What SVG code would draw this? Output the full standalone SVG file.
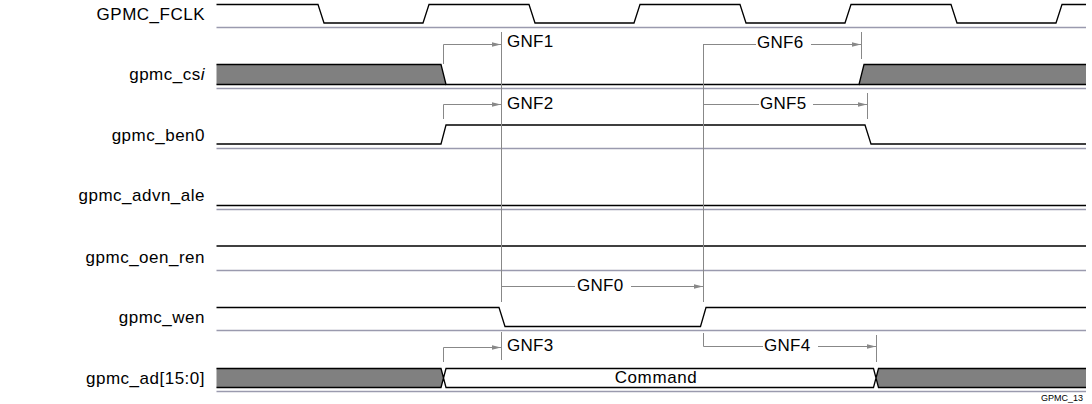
<svg xmlns="http://www.w3.org/2000/svg" width="1092" height="404" viewBox="0 0 1092 404">
<defs>
<style>
.lbl{font-family:"Liberation Sans",Arial,sans-serif;font-size:17px;letter-spacing:0.5px;fill:#000;text-anchor:end}
.gnf{font-family:"Liberation Sans",Arial,sans-serif;font-size:17px;letter-spacing:0.3px;fill:#000}
.sig{fill:none;stroke:#000;stroke-width:1.3}
.base{fill:none;stroke:#9a9aae;stroke-width:1.3}
.con{fill:none;stroke:#888;stroke-width:1}
.cona{fill:none;stroke:#888;stroke-width:1;marker-end:url(#arr)}
</style>
<marker id="arr" markerUnits="userSpaceOnUse" markerWidth="10" markerHeight="6" refX="9" refY="3" orient="auto">
<path d="M0,0.8 L9,3 L0,5.2 z" fill="#888"/>
</marker>
</defs>
<rect width="1092" height="404" fill="#fff"/>

<g id="labels">
<text class="lbl" x="205" y="20">GPMC_FCLK</text>
<text class="lbl" x="205" y="80">gpmc_cs<tspan font-style="italic">i</tspan></text>
<text class="lbl" x="205" y="141">gpmc_ben0</text>
<text class="lbl" x="205" y="201">gpmc_advn_ale</text>
<text class="lbl" x="205" y="263">gpmc_oen_ren</text>
<text class="lbl" x="205" y="323">gpmc_wen</text>
<text class="lbl" x="205" y="384">gpmc_ad[15:0]</text>
</g>

<g id="baselines">
<path class="base" d="M216.5,27.5H1086 M216.5,88.5H1086 M216.5,148.5H1086 M216.5,209.5H1086 M216.5,270.5H1086 M216.5,330.5H1086 M216.5,391.5H1086"/>
</g>

<g id="GPMC_FCLK">
<path class="sig" d="M216.5,4.5H318L324,23H423L429,4.5H529L535,23H634L640,4.5H740L746,23H845L851,4.5H951L957,23H1056L1062,4.5H1086"/>
</g>

<g id="gpmc_csi">
<path d="M216.5,64.5H441L446,84.5H216.5z" fill="#808080"/>
<path d="M859,84.5L864,64.5H1086V84.5z" fill="#808080"/>
<path class="sig" d="M216.5,64.5H441L446,84.5H859L864,64.5H1086"/>
<path class="sig" d="M216.5,84.5H446 M859,84.5H1086"/>
</g>

<g id="gpmc_ben0">
<path class="sig" d="M216.5,144H441L446,125H865L871,144H1086"/>
</g>

<g id="gpmc_advn_ale">
<path class="sig" d="M216.5,205.5H1086"/>
</g>

<g id="gpmc_oen_ren">
<path class="sig" d="M216.5,246H1086"/>
</g>

<g id="gpmc_wen">
<path class="sig" d="M216.5,307.5H499L505,326.5H700.5L706,307.5H1086"/>
</g>

<g id="gpmc_ad">
<path d="M216.5,368.5H441L443.5,378L441,387.5H216.5z" fill="#808080"/>
<path d="M876,378L878.5,368.5H1086V387.5H878.5z" fill="#808080"/>
<path class="sig" d="M216.5,368.5H441L446,387.5H873.5L878.5,368.5H1086 M216.5,387.5H441L446,368.5H873.5L878.5,387.5H1086"/>
<text x="656" y="383" font-family="Liberation Sans, Arial, sans-serif" font-size="17" letter-spacing="0.6" text-anchor="middle">Command</text>
</g>

<g id="connectors">
<path class="con" d="M501.5,32V302 M501.5,332V360 M703.5,44V302 M861.5,32V59 M867.5,93V119 M876.5,335V362"/>
<path class="cona" d="M443.5,64V44.5H501"/>
<path class="cona" d="M443.5,119V104.5H501"/>
<path class="cona" d="M443.5,362V347.5H501"/>
<path class="con" d="M501.5,286.5H575"/>
<path class="cona" d="M631,286.5H703"/>
<path class="con" d="M703.5,44.5H756"/>
<path class="cona" d="M811,44.5H861"/>
<path class="con" d="M703.5,104.5H759"/>
<path class="cona" d="M813,104.5H867"/>
<path class="con" d="M703.5,333V346.5H763"/>
<path class="cona" d="M818,346.5H876"/>
</g>

<g id="gnf-labels">
<text class="gnf" x="507" y="47">GNF1</text>
<text class="gnf" x="507" y="109">GNF2</text>
<text class="gnf" x="507" y="351">GNF3</text>
<text class="gnf" x="577" y="291">GNF0</text>
<text class="gnf" x="757" y="48">GNF6</text>
<text class="gnf" x="760" y="109">GNF5</text>
<text class="gnf" x="764" y="351">GNF4</text>
</g>

<text x="1083" y="401" font-family="Liberation Sans, Arial, sans-serif" font-size="9" text-anchor="end">GPMC_13</text>
</svg>
